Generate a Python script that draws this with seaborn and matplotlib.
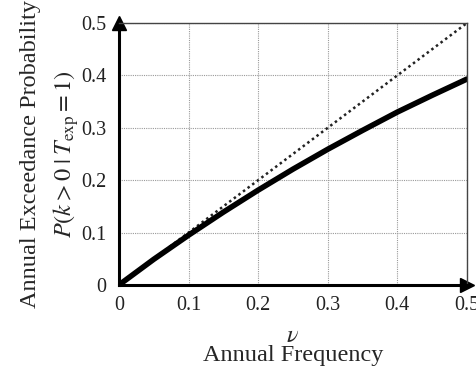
import numpy as np
import pandas as pd
import seaborn as sns
import matplotlib.pyplot as plt

# values
nu = [0.0, 0.05, 0.10, 0.15, 0.20, 0.25, 0.30, 0.35, 0.40, 0.45, 0.50]
prob = [0.0, 0.049, 0.095, 0.139, 0.181, 0.221, 0.259, 0.295, 0.330, 0.362, 0.393]
ref_nu = [0.0, 0.5]
ref_prob = [0.0, 0.5]
ticks = [0, 0.1, 0.2, 0.3, 0.4, 0.5]
tick_labels = ['0', '0.1', '0.2', '0.3', '0.4', '0.5']

sns.set_style('white')
plt.rcParams['font.family'] = ['Liberation Serif', 'DejaVu Serif']
plt.rcParams['mathtext.fontset'] = 'stix'

fig = plt.figure(figsize=(4.76, 3.71), dpi=100)
ax = fig.add_axes([0.25, 0.232, 0.731, 0.706])

df = pd.DataFrame({'nu': nu, 'p': prob})
ref = pd.DataFrame({'nu': ref_nu, 'p': ref_prob})
sns.lineplot(data=ref, x='nu', y='p', ax=ax, color='#222222', lw=1.8,
             linestyle=(0, (1, 1.3)))
sns.lineplot(data=df, x='nu', y='p', ax=ax, color='black', lw=4)

ax.set_xlim(0, 0.5)
ax.set_ylim(0, 0.5)
ax.set_xticks(ticks)
ax.set_xticklabels(tick_labels)
ax.set_yticks(ticks)
ax.set_yticklabels(tick_labels)
ax.tick_params(labelsize=14.5, length=0, colors='#222222')
ax.tick_params(axis='x', pad=8)
ax.tick_params(axis='y', pad=9)
ax.grid(True, color='#9a9a9a', linestyle=(0, (1, 1)), lw=0.8)

for s in ['top', 'right']:
    ax.spines[s].set_color('#444444')
    ax.spines[s].set_linewidth(1.0)
for s in ['left', 'bottom']:
    ax.spines[s].set_color('black')
    ax.spines[s].set_linewidth(2.2)

# axis arrows
ax.plot(1, 0, '>', color='black', ms=10, transform=ax.transAxes, clip_on=False)
ax.plot(0, 1, '^', color='black', ms=10, transform=ax.transAxes, clip_on=False)

ax.set_xlabel('$\\nu$\nAnnual Frequency', fontsize=17.5, labelpad=8,
              linespacing=0.85)
ax.set_ylabel('Annual Exceedance Probability\n'
              '$P(k > 0\\;|\\;T_{\\mathrm{exp}} = 1)$', fontsize=17.5,
              labelpad=0, linespacing=1.5)

plt.savefig('out.png', dpi=100)
plt.close()
